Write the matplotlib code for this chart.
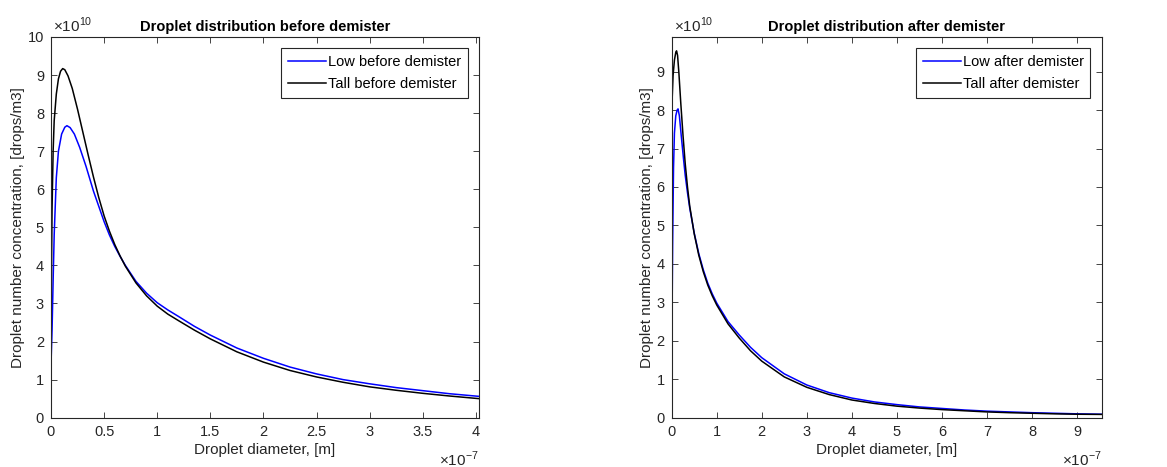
import numpy as np
import matplotlib
matplotlib.use('Agg')
import matplotlib.pyplot as plt
from matplotlib.ticker import FuncFormatter, MultipleLocator

plt.rcParams['font.family'] = ['Liberation Sans', 'DejaVu Sans']
plt.rcParams['mathtext.fontset'] = 'custom'
plt.rcParams['mathtext.rm'] = 'Liberation Sans'

# Data: x in units of 1e-7 m, y in units of 1e10 drops/m3
x_low_before = [0.0, 0.01, 0.02, 0.03, 0.05, 0.07, 0.10, 0.13, 0.15, 0.18, 0.22, 0.27,
                0.33, 0.40, 0.45, 0.50, 0.55, 0.60, 0.65, 0.70, 0.80, 0.90, 1.00, 1.10,
                1.20, 1.35, 1.50, 1.75, 2.00, 2.25, 2.50, 2.75, 3.00, 3.25, 3.50, 3.75, 4.03]
y_low_before = [1.4, 2.3, 3.6, 4.8, 6.3, 7.0, 7.45, 7.63, 7.67, 7.62, 7.45, 7.1,
                6.6, 5.95, 5.55, 5.15, 4.8, 4.5, 4.24, 4.0, 3.58, 3.27, 3.02, 2.83,
                2.66, 2.4, 2.17, 1.83, 1.56, 1.33, 1.15, 1.0, 0.89, 0.79, 0.71, 0.63, 0.56]

x_tall_before = [0.0, 0.005, 0.01, 0.02, 0.03, 0.05, 0.07, 0.09, 0.11, 0.13, 0.16, 0.20,
                 0.25, 0.30, 0.35, 0.40, 0.45, 0.50, 0.55, 0.60, 0.65, 0.70, 0.80, 0.90,
                 1.00, 1.10, 1.20, 1.35, 1.50, 1.75, 2.00, 2.25, 2.50, 2.75, 3.00, 3.25,
                 3.50, 3.75, 4.03]
y_tall_before = [2.4, 4.0, 5.5, 7.0, 7.8, 8.5, 8.9, 9.1, 9.17, 9.14, 8.98, 8.65,
                 8.1, 7.5, 6.9, 6.32, 5.78, 5.3, 4.9, 4.55, 4.25, 3.98, 3.54, 3.2,
                 2.93, 2.72, 2.55, 2.3, 2.07, 1.73, 1.46, 1.24, 1.07, 0.93, 0.81, 0.72,
                 0.64, 0.57, 0.50]

x_low_after = [0.0, 0.01, 0.02, 0.04, 0.06, 0.09, 0.12, 0.14, 0.17, 0.21, 0.26, 0.30,
               0.35, 0.40, 0.50, 0.60, 0.70, 0.80, 0.90, 1.00, 1.25, 1.50, 1.75, 2.00,
               2.50, 3.00, 3.50, 4.00, 4.50, 5.00, 5.50, 6.00, 6.50, 7.00, 7.50, 8.00,
               8.50, 9.00, 9.55]
y_low_after = [1.5, 3.0, 4.5, 6.5, 7.4, 7.85, 8.0, 8.03, 7.85, 7.35, 6.75, 6.3,
               5.85, 5.45, 4.8, 4.27, 3.85, 3.5, 3.22, 2.98, 2.5, 2.15, 1.83, 1.56,
               1.14, 0.85, 0.65, 0.51, 0.41, 0.34, 0.28, 0.24, 0.20, 0.17, 0.15, 0.13,
               0.115, 0.10, 0.09]

x_tall_after = [0.0, 0.005, 0.01, 0.03, 0.06, 0.09, 0.107, 0.13, 0.16, 0.20, 0.25, 0.30,
                0.35, 0.40, 0.50, 0.60, 0.70, 0.80, 0.90, 1.00, 1.25, 1.50, 1.75, 2.00,
                2.50, 3.00, 3.50, 4.00, 4.50, 5.00, 5.50, 6.00, 6.50, 7.00, 7.50, 8.00,
                8.50, 9.00, 9.55]
y_tall_after = [5.3, 7.3, 8.3, 8.9, 9.3, 9.5, 9.54, 9.42, 8.95, 8.2, 7.35, 6.6,
                6.0, 5.5, 4.78, 4.23, 3.8, 3.45, 3.17, 2.93, 2.44, 2.07, 1.74, 1.47,
                1.06, 0.79, 0.60, 0.46, 0.37, 0.30, 0.25, 0.21, 0.18, 0.15, 0.13, 0.115,
                0.10, 0.09, 0.085]

XS = 1e-7
YS = 1e10
grey = (0.15, 0.15, 0.15)


def style_axes(ax, xmax, ymax, xstep, ystep, title):
    ax.set_xlim(0, xmax * XS)
    ax.set_ylim(0, ymax * YS)
    ax.xaxis.set_major_locator(MultipleLocator(xstep * XS))
    ax.yaxis.set_major_locator(MultipleLocator(ystep * YS))
    ax.xaxis.set_major_formatter(FuncFormatter(lambda v, p: '%g' % round(v / XS, 6)))
    ax.yaxis.set_major_formatter(FuncFormatter(lambda v, p: '%g' % round(v / YS, 6)))
    ax.tick_params(direction='in', top=True, right=True, length=4, width=0.6,
                   colors=grey, labelsize=10.5, pad=5)
    for s in ax.spines.values():
        s.set_color(grey)
        s.set_linewidth(0.8)
    ax.set_title(title, fontsize=10.5, fontweight='bold', color='black', pad=4)
    ax.set_xlabel('Droplet diameter, [m]', fontsize=11, color=grey, labelpad=3)
    ax.set_ylabel('Droplet number concentration, [drops/m3]', fontsize=11, color=grey, labelpad=2)
    ax.text(0.005, 1.004, r'$\times 10^{10}$', transform=ax.transAxes, ha='left', va='bottom',
            fontsize=11, color=grey)
    ax.text(1.0, -0.085, r'$\times 10^{-7}$', transform=ax.transAxes, ha='right', va='top',
            fontsize=11, color=grey)
    leg = ax.legend(loc='upper right', fontsize=10.5, handlelength=2.6, handletextpad=0.15,
                    borderpad=0.45, labelspacing=0.55, fancybox=False, framealpha=1,
                    edgecolor=grey, borderaxespad=0.78)
    leg.get_frame().set_linewidth(0.8)


fig = plt.figure(figsize=(11.67, 4.67), dpi=100)
ax1 = fig.add_axes([0.0437, 0.1056, 0.3668, 0.8152])
ax2 = fig.add_axes([0.5756, 0.1056, 0.3685, 0.8152])

ax1.plot(np.array(x_low_before) * XS, np.array(y_low_before) * YS, color='blue', lw=1.1,
         label='Low before demister')
ax1.plot(np.array(x_tall_before) * XS, np.array(y_tall_before) * YS, color='black', lw=1.1,
         label='Tall before demister')
style_axes(ax1, 4.03, 10, 0.5, 1, 'Droplet distribution before demister')

ax2.plot(np.array(x_low_after) * XS, np.array(y_low_after) * YS, color='blue', lw=1.1,
         label='Low after demister')
ax2.plot(np.array(x_tall_after) * XS, np.array(y_tall_after) * YS, color='black', lw=1.1,
         label='Tall after demister')
style_axes(ax2, 9.55, 9.9, 1, 1, 'Droplet distribution after demister')

fig.savefig('out.png', dpi=100)
